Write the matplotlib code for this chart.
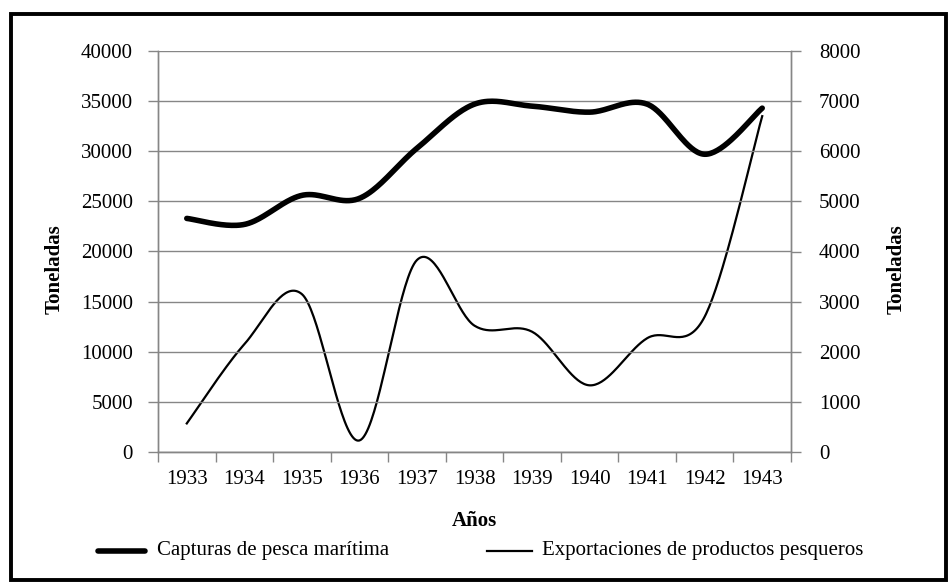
import numpy as np
import matplotlib.pyplot as plt
from matplotlib.lines import Line2D
from matplotlib.patches import Rectangle

plt.rcParams['font.family'] = ['Liberation Serif', 'DejaVu Serif']

years = ['1933', '1934', '1935', '1936', '1937', '1938', '1939', '1940', '1941', '1942', '1943']
capturas = [23300, 22700, 25600, 25300, 30300, 34700, 34500, 33900, 34700, 29700, 34300]
exportaciones = [570, 2150, 3150, 230, 3830, 2520, 2400, 1330, 2270, 2700, 6700]


def smooth(y, n=40):
    # Excel-like smoothed line (Catmull-Rom as cubic Bezier)
    y = np.asarray(y, float)
    x = np.arange(len(y), dtype=float)
    px = np.concatenate([[x[0]], x, [x[-1]]])
    py = np.concatenate([[y[0]], y, [y[-1]]])
    t = np.linspace(0, 1, n)[:, None]
    xs, ys = [], []
    for i in range(1, len(px) - 2):
        p0 = np.array([px[i], py[i]])
        p3 = np.array([px[i + 1], py[i + 1]])
        c1 = p0 + (np.array([px[i + 1], py[i + 1]]) - np.array([px[i - 1], py[i - 1]])) / 6
        c2 = p3 - (np.array([px[i + 2], py[i + 2]]) - np.array([px[i], py[i]])) / 6
        b = (1 - t) ** 3 * p0 + 3 * (1 - t) ** 2 * t * c1 + 3 * (1 - t) * t ** 2 * c2 + t ** 3 * p3
        xs.append(b[:, 0]); ys.append(b[:, 1])
    return np.concatenate(xs), np.concatenate(ys)


fig = plt.figure(figsize=(9.51, 5.83), dpi=100)
ax = fig.add_axes([158 / 951, 1 - 452 / 583, 633 / 951, 401 / 583])
ax2 = ax.twinx()

grey = '#868686'
fs = 15

x1, y1 = smooth(capturas)
ax.plot(x1, y1, color='black', lw=4, solid_capstyle='round', zorder=3)
x2, y2 = smooth(exportaciones)
ax2.plot(x2, y2, color='black', lw=1.6, zorder=3)

ax.set_xlim(-0.5, len(years) - 0.5)
ax.set_ylim(0, 40000)
ax2.set_ylim(0, 8000)
ax.set_yticks(range(0, 40001, 5000))
ax2.set_yticks(range(0, 8001, 1000))
ax.set_xticks(range(len(years)))
ax.set_xticklabels(years)
ax.set_xticks(np.arange(-0.5, len(years), 1), minor=True)
ax.tick_params(axis='x', which='major', length=0, pad=13, labelsize=fs)
ax.tick_params(axis='x', which='minor', length=7, width=1, color=grey)
ax.tick_params(axis='y', length=7, width=1, color=grey, pad=11, labelsize=fs)
ax2.tick_params(axis='y', length=7, width=1, color=grey, pad=13, labelsize=fs)

ax.grid(axis='y', color=grey, lw=1)
for a in (ax, ax2):
    a.spines['top'].set_visible(False)
    for s in ('left', 'right', 'bottom'):
        a.spines[s].set_color(grey)
        a.spines[s].set_linewidth(1)
ax.set_zorder(ax2.get_zorder() + 1)
ax.patch.set_visible(False)

fig.text(474 / 951, 1 - 521 / 583, 'Años', ha='center', va='center', fontsize=fs, fontweight='bold')
fig.text(55 / 951, 1 - 269 / 583, 'Toneladas', ha='center', va='center', rotation=90, fontsize=fs, fontweight='bold')
fig.text(897 / 951, 1 - 269 / 583, 'Toneladas', ha='center', va='center', rotation=90, fontsize=fs, fontweight='bold')

# legend
ly = 1 - 551 / 583
fig.add_artist(Line2D([98 / 951, 145 / 951], [ly, ly], color='black', lw=4, solid_capstyle='round'))
fig.text(157 / 951, ly, 'Capturas de pesca marítima', va='center', fontsize=fs)
fig.add_artist(Line2D([487 / 951, 532 / 951], [ly, ly], color='black', lw=1.6))
fig.text(542 / 951, ly, 'Exportaciones de productos pesqueros', va='center', fontsize=fs)

# outer frame
fig.add_artist(Rectangle((11 / 951, 1 - 580 / 583), 935 / 951, 566 / 583, transform=fig.transFigure,
                         fill=False, ec='black', lw=2.8))

fig.savefig('out.png', dpi=100)
